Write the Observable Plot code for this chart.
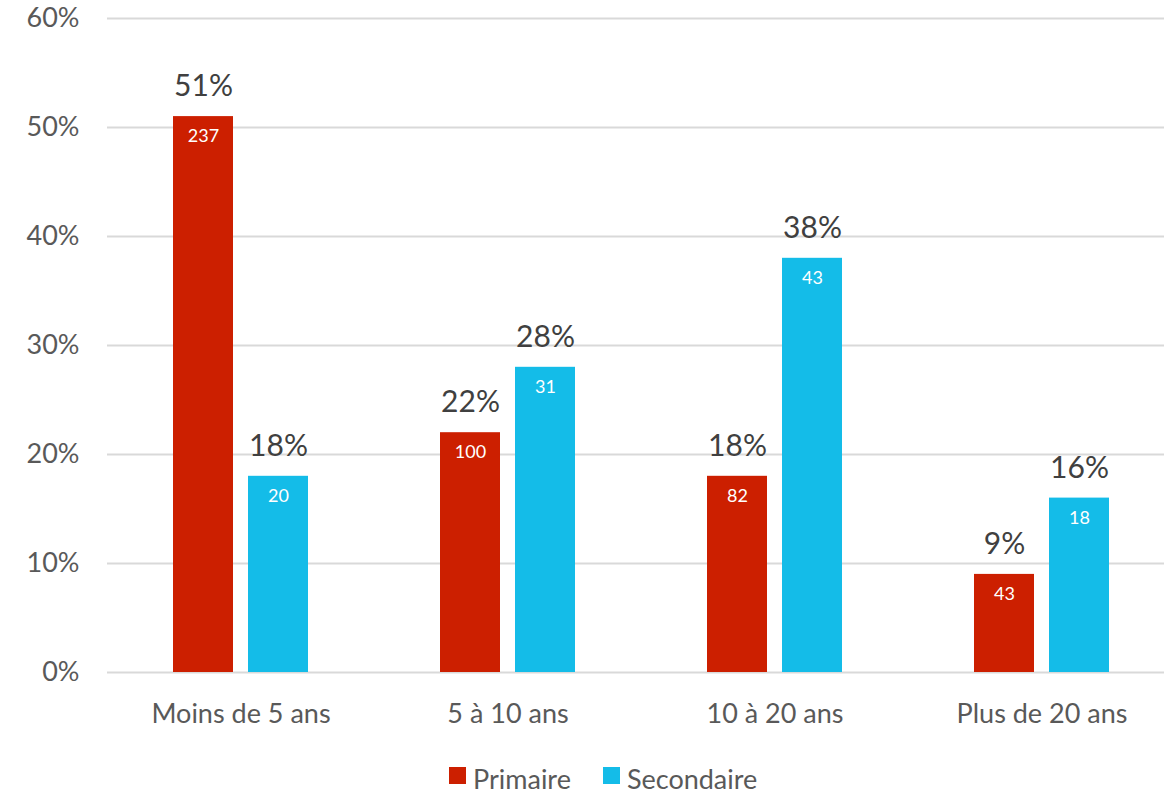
<!DOCTYPE html>
<html><head><meta charset="utf-8">
<script src="https://cdn.jsdelivr.net/npm/d3@7"></script>
<script src="https://cdn.jsdelivr.net/npm/@observablehq/plot@0.6"></script>
<style>
body{margin:0;background:#fff;font-family:Lato,"Open Sans",sans-serif;}
#legend{display:flex;align-items:center;margin-left:449px;margin-top:22px;font-size:27px;color:#595959;}
.sw{width:17px;height:17px;display:inline-block;margin-right:7px;margin-top:-6px}
.it{display:flex;align-items:center;margin-right:32px}
</style></head><body>
<div id="chart"></div>
<div id="legend"></div>
<script>
const categories = ["Moins de 5 ans", "5 à 10 ans", "10 à 20 ans", "Plus de 20 ans"];
const series = ["Primaire", "Secondaire"];
const primaire = [0.51, 0.22, 0.18, 0.09];
const primaireCounts = [237, 100, 82, 43];
const secondaire = [0.18, 0.28, 0.38, 0.16];
const secondaireCounts = [20, 31, 43, 18];
const yTicks = [0, 0.1, 0.2, 0.3, 0.4, 0.5, 0.6];
const colors = ["#CC1F00", "#14BCE8"];

const data = [];
categories.forEach((c, i) => {
  data.push({cat: c, s: "Primaire", v: primaire[i], n: primaireCounts[i]});
  data.push({cat: c, s: "Secondaire", v: secondaire[i], n: secondaireCounts[i]});
});

const chart = Plot.plot({
  width: 1164,
  height: 740,
  marginTop: 18,
  marginBottom: 68,
  marginLeft: 106,
  marginRight: 0,
  style: {fontFamily: "Lato, 'Open Sans', sans-serif", color: "#595959", background: "#fff"},
  fx: {domain: categories, range: [106, 1176], paddingInner: 0, paddingOuter: 0, label: null},
  x: {domain: series, paddingInner: 0.197, paddingOuter: 0.858, axis: null},
  y: {domain: [0, 0.6], label: null},
  color: {domain: series, range: colors},
  marks: [
    Plot.ruleY(yTicks, {stroke: "#d9d9d9", strokeWidth: 2, facetAnchor: null, fx: null}),
    Plot.axisY(yTicks, {tickFormat: d => Math.round(d * 100) + "%", tickSize: 0, tickPadding: 28, fontSize: 27, fill: "#595959", label: null}),
    Plot.axisFx({anchor: "bottom", tickSize: 0, tickPadding: 31, fontSize: 27, fill: "#595959", label: null}),
    Plot.barY(data, {fx: "cat", x: "s", y: "v", fill: "s"}),
    Plot.text(data, {fx: "cat", x: "s", y: "v", text: d => Math.round(d.v * 100) + "%", dy: -30, fontSize: 30, fill: "#404040"}),
    Plot.text(data, {fx: "cat", x: "s", y: "v", text: d => String(d.n), dy: 20, fontSize: 18, fill: "#fff"})
  ]
});
document.getElementById("chart").appendChild(chart);

const lg = document.getElementById("legend");
series.forEach((s, i) => {
  const it = document.createElement("span"); it.className = "it";
  const sw = document.createElement("span"); sw.className = "sw"; sw.style.background = colors[i];
  it.appendChild(sw); it.appendChild(document.createTextNode(s));
  lg.appendChild(it);
});
</script>
</body></html>
